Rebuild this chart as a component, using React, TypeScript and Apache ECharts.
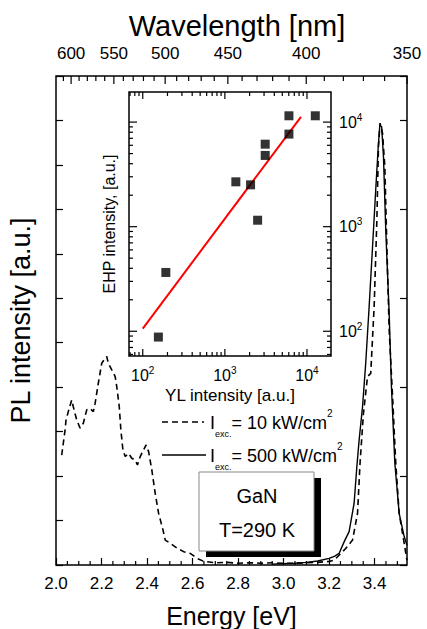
import React, { useEffect, useRef } from 'react';
import * as echarts from 'echarts';

const HC = 1239.84; // eV*nm
const E_MIN = 2.0;
const E_MAX = HC / 350;
const Y_MAX = 11;
const FONT = "Arial, 'Liberation Sans', Helvetica, sans-serif";

// Main spectra (energy in eV, intensity in arbitrary linear units)
const dashedEnergy = [
  2.025, 2.04, 2.044, 2.054, 2.069, 2.076, 2.091, 2.106, 2.12, 2.135, 2.15, 2.164, 2.172, 2.186, 2.201,
  2.216, 2.223, 2.23, 2.245, 2.26, 2.267, 2.278, 2.285, 2.294, 2.304, 2.319, 2.333, 2.348, 2.358, 2.37,
  2.385, 2.396, 2.407, 2.421, 2.436, 2.451, 2.47, 2.48, 2.502, 2.532, 2.561, 2.59, 2.62, 2.65, 2.7,
  2.75, 2.8, 2.85, 2.9, 2.95, 3.0, 3.05, 3.1, 3.15, 3.2, 3.222, 3.25, 3.273, 3.303, 3.325, 3.336,
  3.351, 3.369, 3.383, 3.398, 3.41, 3.417, 3.424, 3.435, 3.445, 3.454, 3.464, 3.479, 3.493, 3.508,
  3.53, 3.542,
];
const dashedIntensity = [
  2.47, 3.04, 3.26, 3.45, 3.71, 3.56, 3.26, 3.08, 3.19, 3.49, 3.52, 3.45, 3.64, 4.09, 4.54,
  4.65, 4.69, 4.54, 4.39, 4.24, 4.01, 3.56, 3.04, 2.59, 2.44, 2.51, 2.4, 2.36, 2.25, 2.44,
  2.59, 2.7, 2.55, 2.14, 1.61, 1.16, 0.79, 0.56, 0.49, 0.38, 0.3, 0.26, 0.15, 0.08, 0.05,
  0.06, 0.04, 0.05, 0.04, 0.05, 0.04, 0.04, 0.05, 0.06, 0.08, 0.11, 0.25, 0.37, 0.56, 1.16, 2.29,
  3.41, 4.24, 4.31, 5.81, 7.76, 9.41, 9.94, 9.71, 8.96, 7.16, 5.29, 3.79, 2.29, 1.16,
  0.49, 0.11,
];
const solidEnergy = [
  2.95, 3.0, 3.05, 3.1, 3.15, 3.2, 3.225, 3.244, 3.266, 3.288, 3.31, 3.322, 3.332, 3.347, 3.361,
  3.376, 3.391, 3.405, 3.416, 3.423, 3.431, 3.439, 3.449, 3.464, 3.474, 3.489, 3.508, 3.53, 3.542,
];
const solidIntensity = [
  0.02, 0.03, 0.04, 0.06, 0.09, 0.15, 0.2, 0.26, 0.52, 0.75, 1.39, 2.21, 2.81, 3.56, 4.54,
  5.81, 7.16, 8.44, 9.41, 9.9, 9.86, 9.19, 7.54, 5.66, 4.01, 2.29, 1.16, 0.64, 0.45,
];

// Axis ticks
const wavelengthTicks = [
  610, 600, 590, 580, 570, 560, 550, 540, 530, 520, 510, 500, 490, 480, 470, 460, 450, 440, 430, 420,
  410, 400, 390, 380, 370, 360, 350,
];
const wavelengthLabels = [600, 550, 500, 450, 400, 350];
const energyMinorTicks = [
  2.05, 2.1, 2.15, 2.25, 2.3, 2.35, 2.45, 2.5, 2.55, 2.65, 2.7, 2.75, 2.85, 2.9, 2.95, 3.05, 3.1, 3.15,
  3.25, 3.3, 3.35, 3.45, 3.5,
];

// Inset: EHP intensity vs YL intensity
const ylIntensity = [155, 191, 1360, 2055, 2505, 3097, 3097, 6026, 6026, 12620];
const ehpIntensity = [88, 365, 2685, 2512, 1153, 6150, 4800, 11490, 7680, 11490];
const fitYL = [100, 8450];
const fitEHP = [106, 11240];
const insetMajorTicks = [100, 1000, 10000];
const insetXMinorTicks = [70, 80, 90, 200, 300, 400, 500, 600, 700, 800, 900, 2000, 3000, 4000, 5000, 6000, 7000, 8000, 9000];
const insetYMinorTicks = [60, 70, 80, 90, 200, 300, 400, 500, 600, 700, 800, 900, 2000, 3000, 4000, 5000, 6000, 7000, 8000, 9000];
const INSET_X = [68, 19600];
const INSET_Y = [58, 19400];

function tickRenderer(dir: 'x' | 'y', sides: Array<'min' | 'max'>, majorLen: number, minorLen: number) {
  return (params: any, api: any) => {
    const cs = params.coordSys;
    const len = api.value(2) ? majorLen : minorLen;
    const pt = api.coord([api.value(0), api.value(1)]);
    const children: any[] = [];
    for (const s of sides) {
      if (dir === 'x') {
        const x = pt[0];
        const y0 = s === 'min' ? cs.y + cs.height : cs.y;
        const y1 = s === 'min' ? y0 - len : y0 + len;
        children.push({ type: 'line', shape: { x1: x, y1: y0, x2: x, y2: y1 }, style: { stroke: '#000', lineWidth: 1.2 } });
      } else {
        const y = pt[1];
        const x0 = s === 'min' ? cs.x : cs.x + cs.width;
        const x1 = s === 'min' ? x0 + len : x0 - len;
        children.push({ type: 'line', shape: { x1: x0, y1: y, x2: x1, y2: y }, style: { stroke: '#000', lineWidth: 1.2 } });
      }
    }
    return { type: 'group', children };
  };
}

const powLabel = (v: number) => {
  const e = Math.log10(v);
  if (Math.abs(e - Math.round(e)) > 1e-6) return '';
  return '{b|10}{sup|' + Math.round(e) + '}';
};

export default function App() {
  const ref = useRef<HTMLDivElement>(null);
  useEffect(() => {
    if (!ref.current) return;
    const chart = echarts.init(ref.current, undefined, { renderer: 'svg' });
    const black = '#000';
    const labelRich = {
      b: { fontSize: 16, fontFamily: FONT, color: black },
      sup: { fontSize: 10, fontFamily: FONT, color: black, verticalAlign: 'top' },
    };
    const option: any = {
      animation: false,
      backgroundColor: '#fff',
      textStyle: { fontFamily: FONT, color: black },
      grid: [
        { left: 56, top: 76, width: 351, height: 489, show: true, borderColor: black, borderWidth: 1.5, backgroundColor: 'transparent', containLabel: false, outerBoundsMode: 'none' },
        { left: 129, top: 92, width: 202, height: 264, show: true, borderColor: black, borderWidth: 1.5, backgroundColor: '#fff', containLabel: false, outerBoundsMode: 'none', z: 3 },
      ],
      xAxis: [
        {
          type: 'value', gridIndex: 0, min: E_MIN, max: E_MAX, interval: 0.2,
          axisLine: { show: false }, splitLine: { show: false },
          axisTick: { show: true, inside: true, length: 7, lineStyle: { color: black, width: 1.2 } },
          axisLabel: {
            fontSize: 17, color: black, fontFamily: FONT, margin: 10, showMaxLabel: false,
            formatter: (v: number) => (Math.abs(v * 5 - Math.round(v * 5)) < 1e-6 ? v.toFixed(1) : ''),
          },
          name: 'Energy [eV]', nameLocation: 'middle', nameGap: 38,
          nameTextStyle: { fontSize: 25, color: black, fontFamily: FONT },
        },
        {
          type: 'log', logBase: 10, gridIndex: 1, min: INSET_X[0], max: INSET_X[1],
          axisLine: { show: false }, splitLine: { show: false }, axisTick: { show: false }, minorTick: { show: false },
          axisLabel: { formatter: powLabel, rich: labelRich, margin: 9, color: black, fontSize: 16, fontFamily: FONT, lineHeight: 20 },
          name: 'YL intensity [a.u.]', nameLocation: 'middle', nameGap: 31,
          nameTextStyle: { fontSize: 17, color: black, fontFamily: FONT },
        },
      ],
      yAxis: [
        {
          type: 'value', gridIndex: 0, min: 0, max: Y_MAX, interval: 1, position: 'left',
          axisLine: { show: false }, splitLine: { show: false }, axisLabel: { show: false },
          axisTick: { show: true, inside: true, length: 7, lineStyle: { color: black, width: 1.2 } },
          name: 'PL intensity [a.u.]', nameLocation: 'middle', nameGap: 22,
          nameTextStyle: { fontSize: 27, color: black, fontFamily: FONT },
        },
        {
          type: 'value', gridIndex: 0, min: 0, max: Y_MAX, interval: 2, position: 'right',
          axisLine: { show: false }, splitLine: { show: false }, axisLabel: { show: false },
          axisTick: { show: true, inside: true, length: 7, lineStyle: { color: black, width: 1.2 } },
        },
        {
          type: 'log', logBase: 10, gridIndex: 1, min: INSET_Y[0], max: INSET_Y[1], position: 'left',
          axisLine: { show: false }, splitLine: { show: false }, axisLabel: { show: false },
          axisTick: { show: false }, minorTick: { show: false },
          name: 'EHP intensity, [a.u.]', nameLocation: 'middle', nameGap: 12,
          nameTextStyle: { fontSize: 16, color: black, fontFamily: FONT },
        },
        {
          type: 'log', logBase: 10, gridIndex: 1, min: INSET_Y[0], max: INSET_Y[1], position: 'right',
          axisLine: { show: false }, splitLine: { show: false }, axisTick: { show: false }, minorTick: { show: false },
          axisLabel: { formatter: powLabel, rich: labelRich, margin: 8, color: black, fontSize: 16, fontFamily: FONT, lineHeight: 20 },
        },
      ],
      series: [
        {
          name: 'Iexc = 10 kW/cm2', type: 'line', xAxisIndex: 0, yAxisIndex: 0, showSymbol: false, symbol: 'none',
          data: dashedEnergy.map((e, i) => [e, dashedIntensity[i]]),
          lineStyle: { color: black, width: 1.6, type: [6, 4] }, z: 2,
        },
        {
          name: 'Iexc = 500 kW/cm2', type: 'line', xAxisIndex: 0, yAxisIndex: 0, showSymbol: false, symbol: 'none',
          data: solidEnergy.map((e, i) => [e, solidIntensity[i]]),
          lineStyle: { color: black, width: 1.4, type: 'solid' }, z: 2,
        },
        {
          name: 'wavelength axis', type: 'custom', xAxisIndex: 0, yAxisIndex: 0, clip: false, silent: true,
          data: wavelengthTicks.map((l) => [HC / l, Y_MAX, l % 50 === 0 ? 1 : 0, l]),
          renderItem: (params: any, api: any) => {
            const cs = params.coordSys;
            const pt = api.coord([api.value(0), api.value(1)]);
            const major = api.value(2);
            const l = api.value(3);
            const children: any[] = [
              { type: 'line', shape: { x1: pt[0], y1: cs.y, x2: pt[0], y2: cs.y + (major ? 8 : 5) }, style: { stroke: black, lineWidth: 1.2 } },
            ];
            if (wavelengthLabels.indexOf(l) >= 0) {
              children.push({
                type: 'text', x: pt[0], y: cs.y - 23,
                style: { text: String(l), fill: black, font: `17px ${FONT}`, fontSize: 17, fontFamily: FONT, align: 'center', textAlign: 'center', verticalAlign: 'middle', textVerticalAlign: 'middle' },
              });
            }
            return { type: 'group', children };
          },
          z: 5,
        },
        {
          name: 'energy minor ticks', type: 'custom', xAxisIndex: 0, yAxisIndex: 0, clip: false, silent: true,
          data: energyMinorTicks.map((e) => [e, 0, 0]),
          renderItem: tickRenderer('x', ['min'], 7, 4), z: 5,
        },
        {
          name: 'fit', type: 'line', xAxisIndex: 1, yAxisIndex: 2, showSymbol: false, symbol: 'none',
          data: fitYL.map((x, i) => [x, fitEHP[i]]),
          lineStyle: { color: '#ff0000', width: 2 }, z: 6,
        },
        {
          name: 'EHP vs YL', type: 'scatter', xAxisIndex: 1, yAxisIndex: 2, symbol: 'rect', symbolSize: 9,
          data: ylIntensity.map((x, i) => [x, ehpIntensity[i]]),
          itemStyle: { color: black }, z: 7,
        },
        {
          name: 'inset x ticks', type: 'custom', xAxisIndex: 1, yAxisIndex: 2, clip: false, silent: true,
          data: [...insetMajorTicks.map((v) => [v, 100, 1]), ...insetXMinorTicks.map((v) => [v, 100, 0])],
          renderItem: tickRenderer('x', ['min', 'max'], 7, 4), z: 6,
        },
        {
          name: 'inset y ticks', type: 'custom', xAxisIndex: 1, yAxisIndex: 2, clip: false, silent: true,
          data: [...insetMajorTicks.map((v) => [100, v, 1]), ...insetYMinorTicks.map((v) => [100, v, 0])],
          renderItem: tickRenderer('y', ['min', 'max'], 8, 4), z: 6,
        },
      ],
      graphic: [
        {
          type: 'text', x: 237, y: 26, z: 10,
          style: { text: 'Wavelength [nm]', fill: black, font: `29px ${FONT}`, fontSize: 29, fontFamily: FONT, align: 'center', textAlign: 'center', verticalAlign: 'middle', textVerticalAlign: 'middle' },
        },
        { type: 'line', z: 10, shape: { x1: 162, y1: 422, x2: 204, y2: 422 }, style: { stroke: black, lineWidth: 1.6, lineDash: [6, 4] } },
        { type: 'line', z: 10, shape: { x1: 162, y1: 455, x2: 206, y2: 455 }, style: { stroke: black, lineWidth: 1.4 } },
        {
          type: 'text', z: 10, x: 210, y: 423,
          style: {
            text: 'I{sub|exc.}= 10 kW/cm{sup|2}', fill: black, fontSize: 18, fontFamily: FONT, lineHeight: 30,
            verticalAlign: 'middle', textVerticalAlign: 'middle',
            rich: {
              sub: { fontSize: 9, fontFamily: FONT, fill: black, verticalAlign: 'bottom' },
              sup: { fontSize: 10, fontFamily: FONT, fill: black, verticalAlign: 'top' },
            },
          },
        },
        {
          type: 'text', z: 10, x: 210, y: 456,
          style: {
            text: 'I{sub|exc.}= 500 kW/cm{sup|2}', fill: black, fontSize: 18, fontFamily: FONT, lineHeight: 30,
            verticalAlign: 'middle', textVerticalAlign: 'middle',
            rich: {
              sub: { fontSize: 9, fontFamily: FONT, fill: black, verticalAlign: 'bottom' },
              sup: { fontSize: 10, fontFamily: FONT, fill: black, verticalAlign: 'top' },
            },
          },
        },
        { type: 'rect', z: 10, shape: { x: 206, y: 478, width: 115, height: 79 }, style: { fill: black } },
        { type: 'rect', z: 11, shape: { x: 199, y: 472, width: 115, height: 79 }, style: { fill: '#fff', stroke: '#888', lineWidth: 1 } },
        {
          type: 'text', z: 12, x: 257, y: 496,
          style: { text: 'GaN', fill: black, fontSize: 20, fontFamily: FONT, align: 'center', textAlign: 'center', verticalAlign: 'middle', textVerticalAlign: 'middle' },
        },
        {
          type: 'text', z: 12, x: 257, y: 530,
          style: { text: 'T=290 K', fill: black, fontSize: 20, fontFamily: FONT, align: 'center', textAlign: 'center', verticalAlign: 'middle', textVerticalAlign: 'middle' },
        },
      ],
    };
    chart.setOption(option);
    return () => chart.dispose();
  }, []);
  return <div ref={ref} style={{ position: 'absolute', left: 0, top: 0, width: 427, height: 629, background: '#fff' }} />;
}
